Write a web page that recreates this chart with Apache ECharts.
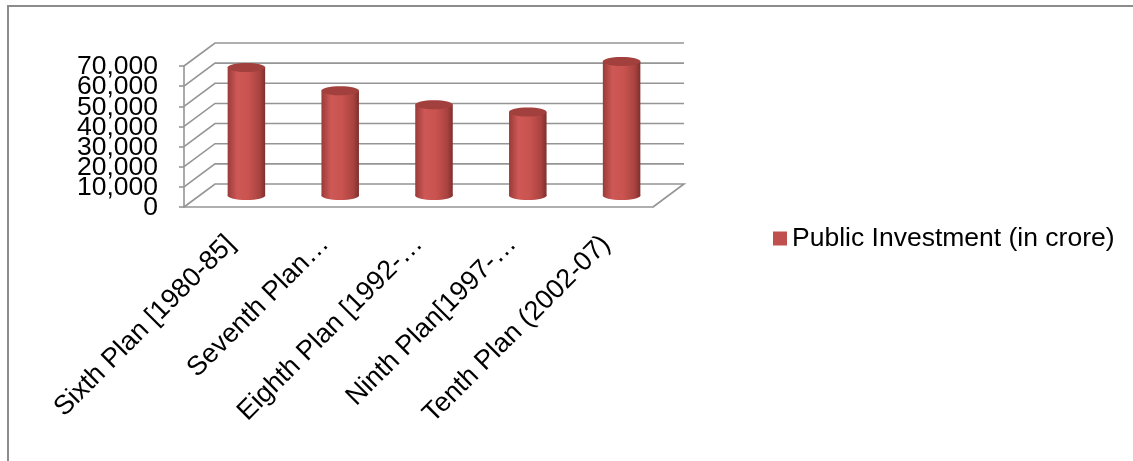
<!DOCTYPE html>
<html>
<head>
<meta charset="utf-8">
<script src="https://cdn.jsdelivr.net/npm/echarts@6/dist/echarts.min.js"></script>
<style>
  html, body { margin: 0; padding: 0; background: #fff; }
  #chart { width: 1133px; height: 461px; }
</style>
</head>
<body>
<div id="chart"></div>
<script>
let chart = echarts.init(document.getElementById('chart'));

// data
let plans = ['Sixth Plan [1980-85]', 'Seventh Plan…', 'Eighth Plan [1992-…', 'Ninth Plan[1997-…', 'Tenth Plan (2002-07)'];
let investment = [63500, 52000, 45000, 41500, 66500];
let yTicks = [0, 10000, 20000, 30000, 40000, 50000, 60000, 70000];
let seriesName = 'Public Investment (in crore)';

// depth of the fake 3d box, px
let depthX = 31;
let depthY = -23;
let gridColor = '#959595';
let font = 'Liberation Sans, Arial, sans-serif';

// back wall, side wall and floor lines for each y tick, plus the tick label
function renderWall(params, api) {
    let cs = params.coordSys;
    let v = api.value(0);
    let y = api.coord([0, v])[1];
    let pts = [
        [cs.x, y],
        [cs.x + depthX, y + depthY],
        [cs.x + cs.width + depthX, y + depthY]
    ];
    if (v === 0) {
        pts.push([cs.x + cs.width, y]);
    }
    return {
        type: 'group',
        children: [
            {
                type: 'polyline',
                shape: { points: pts },
                style: { stroke: gridColor, lineWidth: 1.6, fill: null }
            },
            {
                // excel lets these labels overlap, echarts would hide some
                type: 'text',
                x: cs.x - 26,
                y: y + 1,
                style: {
                    text: v.toLocaleString('en-US'),
                    font: '26.5px ' + font,
                    fill: '#000',
                    align: 'right',
                    verticalAlign: 'middle'
                }
            }
        ]
    };
}

// cylinder bar
function renderCylinder(params, api) {
    let i = api.value(0);
    let v = api.value(1);
    let top = api.coord([i, v]);
    let base = api.coord([i, 0]);
    let band = api.size([1, 0])[0];
    let w = band * 0.4;
    let cx = top[0] + depthX / 2;
    let yTop = top[1] + depthY / 2;
    let yBase = base[1] + depthY / 2;
    let ry = 4.5;
    let body = new echarts.graphic.LinearGradient(0, 0, 1, 0, [
        { offset: 0, color: '#9a3b39' },
        { offset: 0.25, color: '#cd5855' },
        { offset: 0.55, color: '#c9534f' },
        { offset: 0.85, color: '#a94340' },
        { offset: 1, color: '#7f2f2d' }
    ]);
    return {
        type: 'group',
        children: [
            {
                type: 'ellipse',
                shape: { cx: cx, cy: yBase, rx: w / 2, ry: ry },
                style: { fill: body }
            },
            {
                type: 'rect',
                shape: { x: cx - w / 2, y: yTop, width: w, height: yBase - yTop },
                style: { fill: body }
            },
            {
                type: 'ellipse',
                shape: { cx: cx, cy: yTop, rx: w / 2, ry: ry },
                style: { fill: '#a2403d' }
            }
        ]
    };
}

let option = {
    animation: false,
    backgroundColor: '#fff',
    textStyle: { fontFamily: font },
    grid: {
        left: 184,
        top: 66,
        width: 469,
        height: 141
    },
    legend: {
        left: 768,
        top: 220,
        icon: 'rect',
        itemWidth: 14,
        itemHeight: 14,
        itemGap: 5,
        textStyle: { fontSize: 26.5, color: '#000', fontFamily: font },
        data: [seriesName]
    },
    xAxis: {
        type: 'category',
        data: plans,
        axisLine: { lineStyle: { color: gridColor, width: 1.6 } },
        axisTick: { length: 5, lineStyle: { color: gridColor, width: 1.6 } },
        axisLabel: {
            rotate: 45,
            interval: 0,
            margin: 33,
            fontSize: 27,
            color: '#000',
            fontFamily: font
        }
    },
    yAxis: {
        type: 'value',
        min: 0,
        max: 70000,
        interval: 10000,
        splitLine: { show: false },
        axisLine: { show: true, lineStyle: { color: gridColor, width: 1.6 } },
        axisTick: { show: true, length: 5, lineStyle: { color: gridColor, width: 1.6 } },
        axisLabel: { show: false }
    },
    graphic: [
        {
            type: 'polyline',
            shape: { points: [[8, 461], [8, 6], [1133, 6]] },
            style: { stroke: '#8c8c8c', lineWidth: 2, fill: null },
            silent: true
        }
    ],
    series: [
        {
            name: 'wall',
            type: 'custom',
            renderItem: renderWall,
            data: yTicks.map(function (t) { return [t]; }),
            encode: { y: 0 },
            clip: false,
            z: 1,
            silent: true
        },
        {
            name: seriesName,
            type: 'custom',
            renderItem: renderCylinder,
            itemStyle: { color: '#c0504d' },
            data: investment.map(function (v, i) { return [i, v]; }),
            encode: { x: 0, y: 1 },
            z: 2
        }
    ]
};

chart.setOption(option);
</script>
</body>
</html>
